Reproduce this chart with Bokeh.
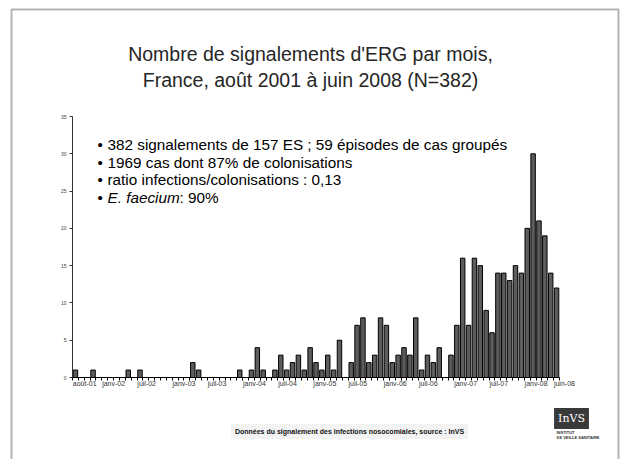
from bokeh.plotting import figure
from bokeh.models import (Range1d, FixedTicker, Label, LabelSet, ColumnDataSource,
                          BoxAnnotation, CustomJSTickFormatter)
from bokeh.core.properties import value
from bokeh.embed import file_html
from bokeh.resources import INLINE

# ---- data (monthly counts, Aug 2001 .. Jun 2008) ----
month_index = list(range(83))
counts = [1, 0, 0, 1, 0, 0, 0, 0, 0, 1, 0, 1,          # août-01 .. juil-02
          0, 0, 0, 0, 0, 0, 0, 0, 2, 1, 0, 0,          # août-02 .. juil-03
          0, 0, 0, 0, 1, 0, 1, 4, 1, 0, 1, 3,          # août-03 .. juil-04
          1, 2, 3, 1, 4, 2, 1, 3, 1, 5, 0, 2,          # août-04 .. juil-05
          7, 8, 2, 3, 8, 7, 2, 3, 4, 3, 8, 1,          # août-05 .. juil-06
          3, 2, 4, 0, 3, 7, 16, 7, 16, 15, 9, 6,       # août-06 .. juil-07
          14, 14, 13, 15, 14, 20, 30, 21, 19, 14, 12]  # août-07 .. juin-08
tick_labels = ["août-01", "janv-02", "juil-02", "janv-03", "juil-03", "janv-04",
               "juil-04", "janv-05", "juil-05", "janv-06", "juil-06", "janv-07",
               "juil-07", "janv-08", "juin-08"]
tick_label_index = [0, 5, 11, 17, 23, 29, 35, 41, 47, 53, 59, 65, 71, 77, 82]
y_ticks = [0, 5, 10, 15, 20, 25, 30, 35]

title_lines = ["Nombre de signalements d'ERG par mois,",
               "France, août 2001 à juin 2008 (N=382)"]
bullets = ["382 signalements de 157 ES ; 59 épisodes de cas groupés",
           "1969 cas dont 87% de colonisations",
           "ratio infections/colonisations : 0,13"]
footer = "Données du signalement des infections nosocomiales, source : InVS"

FONT = "Liberation Sans"
W, H = 620, 459

# page-pixel geometry of the plotting area (layout only)
AX_L, AX_R, AX_B, AX_T = 72.0, 559.0, 377.0, 116.0
n = len(counts)
xpx = (AX_R - AX_L) / n            # px per month
ypx = (AX_B - AX_T) / 35.0         # px per unit
x0 = -0.5 - AX_L / xpx
x1 = n - 0.5 + (W - AX_R) / xpx
y0 = -(H - AX_B) / ypx
y1 = 35 + AX_T / ypx

p = figure(width=W, height=H, output_backend="svg", toolbar_location=None,
           x_range=Range1d(x0, x1), y_range=Range1d(y0, y1),
           min_border=0, min_border_left=0, min_border_right=0,
           min_border_top=0, min_border_bottom=0)
p.outline_line_color = None
p.xgrid.visible = False
p.ygrid.visible = False
p.background_fill_color = "white"
p.border_fill_color = "white"

src = ColumnDataSource(dict(x=month_index, top=counts))
p.vbar(x="x", top="top", width=0.76, bottom=0, source=src,
       fill_color="#5c5c5c", line_color="black", line_width=1)

# y axis (drawn at the left edge of the bars area)
p.yaxis.fixed_location = -0.5
p.yaxis.bounds = (0, 35)
p.yaxis.ticker = FixedTicker(ticks=y_ticks)
p.yaxis.major_label_text_font_size = "5px"
p.yaxis.major_label_text_font = FONT
p.yaxis.major_label_text_color = "#444444"
p.yaxis.major_tick_in = 0
p.yaxis.major_tick_out = 3
p.yaxis.minor_tick_line_color = None
p.yaxis.axis_line_color = "#333333"
p.yaxis.major_tick_line_color = "#333333"
p.yaxis.major_label_standoff = 3

# x axis: a tick at every month boundary, labels drawn separately
p.xaxis.fixed_location = 0
p.xaxis.bounds = (-0.5, n - 0.5)
p.xaxis.ticker = FixedTicker(ticks=[i - 0.5 for i in range(n + 1)])
p.xaxis.formatter = CustomJSTickFormatter(code="return ''")
p.xaxis.major_tick_in = 0
p.xaxis.major_tick_out = 3
p.xaxis.minor_tick_line_color = None
p.xaxis.axis_line_color = "black"
p.xaxis.major_tick_line_color = "black"

lab_src = ColumnDataSource(dict(x=[i - 0.45 for i in tick_label_index],
                                y=[-6.0 / ypx] * len(tick_label_index),
                                text=tick_labels))
p.add_layout(LabelSet(x="x", y="y", text="text", source=lab_src,
                      text_align="left", text_baseline="middle",
                      text_font_size="7px", text_font=value(FONT),
                      text_color="#333333"))

def lab(text, px, py, **kw):
    p.add_layout(Label(x=px, y=H - py, x_units="screen", y_units="screen",
                       text=text, **kw))

# slide border
p.add_layout(BoxAnnotation(left=11, right=618, top=H - 9, bottom=-20,
                           left_units="screen", right_units="screen",
                           top_units="screen", bottom_units="screen",
                           fill_color=None, line_color="black", line_width=2))

# title
lab(title_lines[0], 310, 53, text_align="center", text_baseline="alphabetic",
    text_font_size="19.5px", text_font=FONT, text_color="#262626")
lab(title_lines[1], 310, 79, text_align="center", text_baseline="alphabetic",
    text_font_size="19.5px", text_font=FONT, text_color="#262626")

# bullets
base = [144, 161.5, 179, 196.5]
BS = "15.3px"
for i in range(4):
    lab("•", 97, base[i], text_align="left", text_baseline="alphabetic",
        text_font_size=BS, text_font=FONT, text_color="black")
for i, t in enumerate(bullets):
    lab(t, 107, base[i], text_align="left", text_baseline="alphabetic",
        text_font_size=BS, text_font=FONT, text_color="black")
lab("E. faecium", 107, base[3], text_align="left", text_baseline="alphabetic",
    text_font_size=BS, text_font=FONT, text_font_style="italic", text_color="black")
lab(" : 90%", 179, base[3], text_align="left", text_baseline="alphabetic",
    text_font_size=BS, text_font=FONT, text_color="black")

# footer
lab(footer, 349, 431, text_align="center", text_baseline="middle",
    text_font_size="7px", text_font=FONT, text_font_style="bold", text_color="#111111",
    background_fill_color="#f3f3f3", padding=4)

# logo
lab("InVS", 571, 418, text_align="center", text_baseline="middle",
    text_font_size="11px", text_font="DejaVu Serif", text_color="white",
    background_fill_color="#3a3a3a", padding=4)
lab("INSTITUT", 556, 432, text_align="left", text_baseline="middle",
    text_font_size="4px", text_font=FONT, text_font_style="bold", text_color="#333333")
lab("DE VEILLE SANITAIRE", 556, 437, text_align="left", text_baseline="middle",
    text_font_size="4px", text_font=FONT, text_font_style="bold", text_color="#333333")

open("out.html", "w").write(file_html(p, INLINE))
